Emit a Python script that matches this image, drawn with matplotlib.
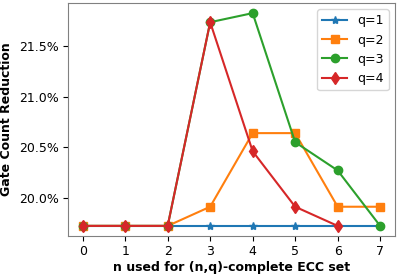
import matplotlib
matplotlib.use('Agg')
import matplotlib.pyplot as plt
from matplotlib.ticker import PercentFormatter

# gate count reduction (%) per n, for each q
n_q1 = [0, 1, 2, 3, 4, 5, 6, 7]
red_q1 = [19.72, 19.72, 19.72, 19.72, 19.72, 19.72, 19.72, 19.72]
n_q2 = [0, 1, 2, 3, 4, 5, 6, 7]
red_q2 = [19.72, 19.72, 19.72, 19.91, 20.64, 20.64, 19.91, 19.91]
n_q3 = [0, 1, 2, 3, 4, 5, 6, 7]
red_q3 = [19.72, 19.72, 19.72, 21.74, 21.83, 20.55, 20.27, 19.72]
n_q4 = [0, 1, 2, 3, 4, 5, 6]
red_q4 = [19.72, 19.72, 19.72, 21.74, 20.46, 19.91, 19.72]

fig = plt.figure(figsize=(3.99, 2.76), dpi=100)
ax = fig.add_axes([0.17, 0.145, 0.82, 0.844])

ax.plot(n_q1, red_q1, marker='*', markersize=6, label='q=1')
ax.plot(n_q2, red_q2, marker='s', markersize=6, label='q=2')
ax.plot(n_q3, red_q3, marker='o', markersize=6, label='q=3')
ax.plot(n_q4, red_q4, marker='d', markersize=6, label='q=4')

ax.yaxis.set_major_formatter(PercentFormatter(decimals=1))
ax.set_yticks([20.0, 20.5, 21.0, 21.5])
ax.set_ylim(19.62, 21.93)
ax.set_xticks(range(8))
ax.tick_params(labelsize=9, pad=3)
for s in ax.spines.values():
    s.set_color('#808080')

ax.set_xlabel('n used for (n,q)-complete ECC set', fontsize=9, fontweight='bold', labelpad=2)
ax.set_ylabel('Gate Count Reduction', fontsize=9, fontweight='bold', labelpad=4)
ax.legend(fontsize=9, loc='upper right')

fig.savefig('out.png', dpi=100)
